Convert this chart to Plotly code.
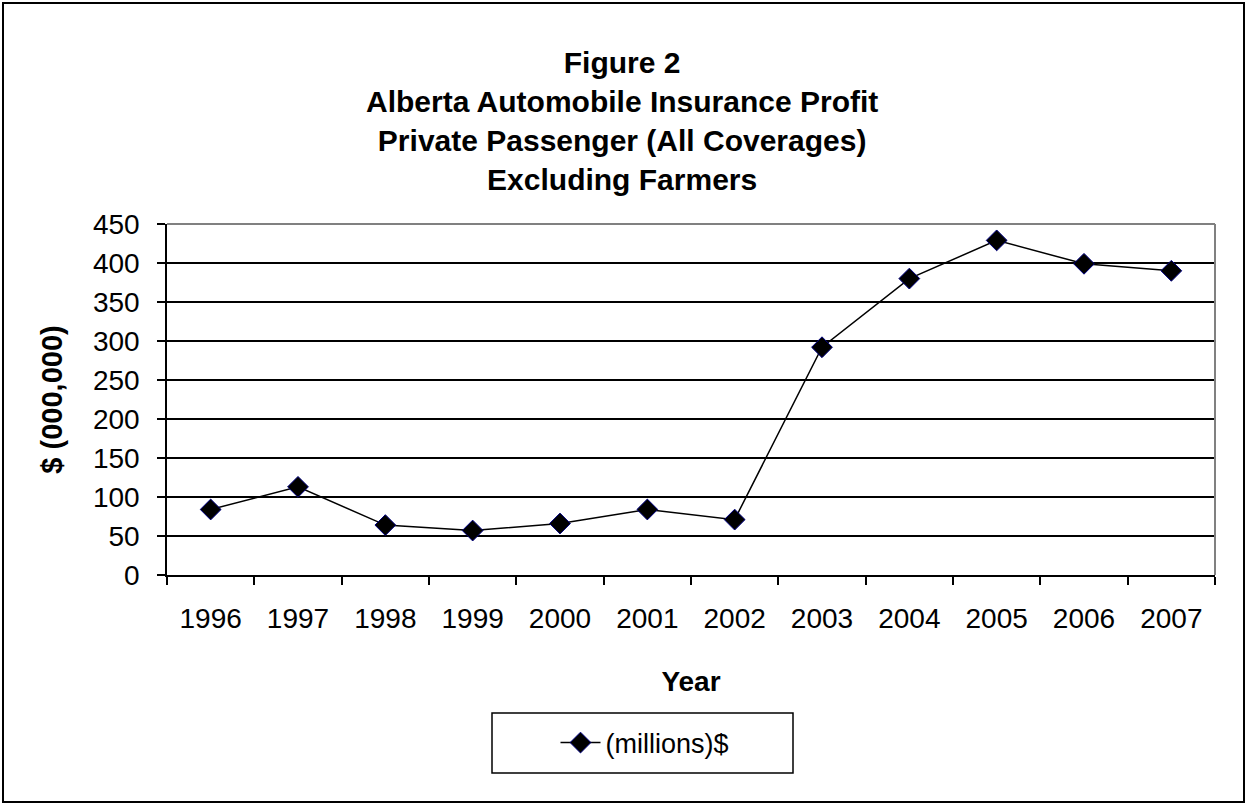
import plotly.graph_objects as go

years = ["1996", "1997", "1998", "1999", "2000", "2001", "2002", "2003", "2004", "2005", "2006", "2007"]
profit = [84, 113, 64, 57, 66, 84, 71, 292, 380, 429, 399, 390]
series_name = "(millions)$"
title_lines = ["Figure 2", "Alberta Automobile Insurance Profit",
               "Private Passenger (All Coverages)", "Excluding Farmers"]
y_ticks = [0, 50, 100, 150, 200, 250, 300, 350, 400, 450]

FONT = "Liberation Sans, Arial, sans-serif"
W, H = 1247, 804
L, R, T, B = 167, 1215, 224, 575
pw, ph = R - L, B - T

def px(x):
    return (x - L) / pw

def py(y):
    return (B - y) / ph

fig = go.Figure()
fig.add_trace(go.Scatter(
    x=years, y=profit, mode="lines+markers", name=series_name,
    line=dict(color="black", width=1.5),
    marker=dict(symbol="diamond", size=16, color="black",
                line=dict(color="#000080", width=1)),
))

title_text = "<br>".join("<b>%s</b>" % t for t in title_lines)
annotations = [dict(text=title_text, x=px(622), y=py(121),
                    xref="paper", yref="paper", xanchor="center", yanchor="middle",
                    align="center", showarrow=False,
                    font=dict(family=FONT, size=30, color="black"))]

fig.update_layout(
    width=W, height=H,
    margin=dict(l=L, r=W - R, t=T, b=H - B, autoexpand=False),
    paper_bgcolor="white", plot_bgcolor="white",
    font=dict(family=FONT, color="black"),
    showlegend=True,
    legend=dict(x=px(645), y=py(743), xanchor="center", yanchor="middle",
                bgcolor="rgba(0,0,0,0)", font=dict(family=FONT, size=27, color="black"),
                itemwidth=40),
    annotations=annotations,
    xaxis=dict(type="category", range=[-0.5, 11.5], tickson="boundaries",
               ticks="outside", ticklen=8, tickcolor="black", tickwidth=1.5,
               showline=True, linecolor="black", linewidth=1.5,
               showgrid=False, tickfont=dict(family=FONT, size=28, color="black"),
               ticklabelstandoff=18,
               title=dict(text="<b>Year</b>", font=dict(family=FONT, size=28, color="black"),
                          standoff=38)),
    yaxis=dict(range=[0, 450], tickvals=y_ticks, ticks="outside", ticklen=8,
               tickcolor="black", tickwidth=1.5,
               showline=True, linecolor="black", linewidth=1.5,
               showgrid=True, gridcolor="black", gridwidth=1.5, zeroline=False,
               tickfont=dict(family=FONT, size=28, color="black"),
               ticklabelstandoff=12,
               title=dict(text="<b>$ (000,000)</b>", font=dict(family=FONT, size=29, color="black"),
                          standoff=22)),
    shapes=[
        dict(type="line", xref="paper", yref="paper", x0=0, x1=1, y0=1, y1=1,
             line=dict(color="#808080", width=2), layer="above"),
        dict(type="line", xref="paper", yref="paper", x0=1, x1=1, y0=0, y1=1,
             line=dict(color="#808080", width=2), layer="above"),
        dict(type="rect", xref="paper", yref="paper", x0=px(492), x1=px(793),
             y0=py(773), y1=py(713), line=dict(color="black", width=1.5)),
        dict(type="rect", xref="paper", yref="paper", x0=px(3), x1=px(1244),
             y0=py(802), y1=py(3), line=dict(color="black", width=2)),
    ],
)

fig.write_html("out.html")
